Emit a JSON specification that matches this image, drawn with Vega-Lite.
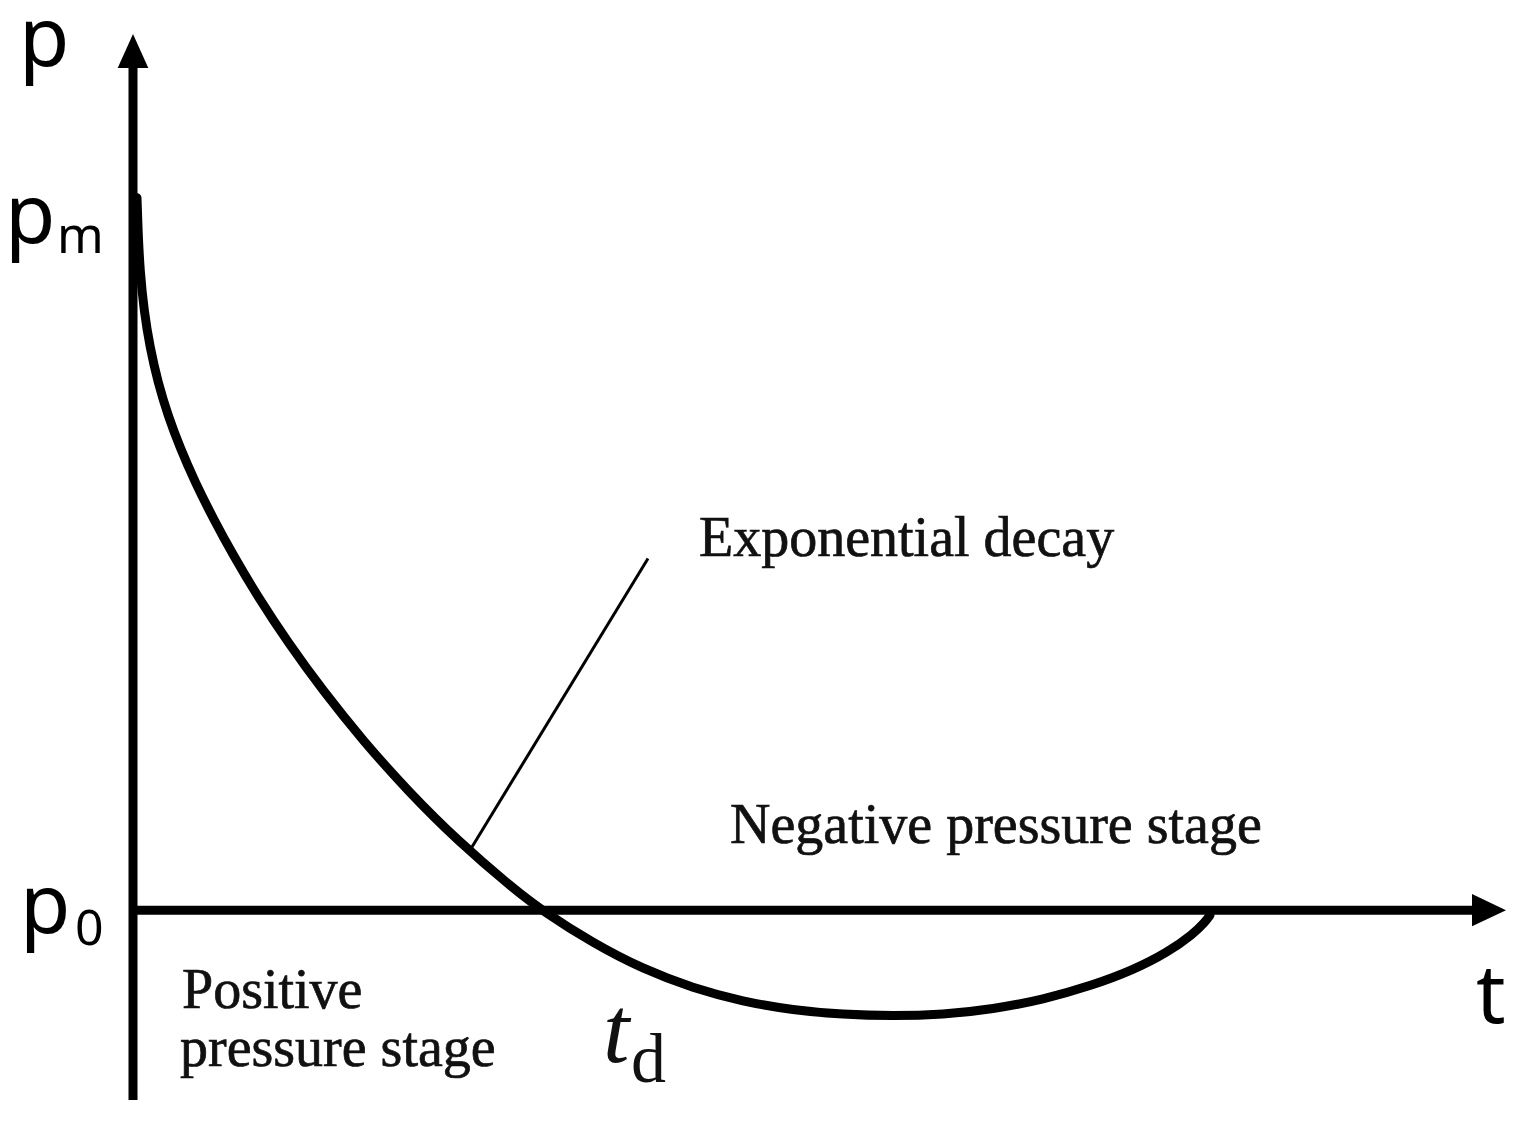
{
  "$schema": "https://vega.github.io/schema/vega-lite/v6.json",
  "width": 1522,
  "height": 1128,
  "autosize": {"type": "fit", "contains": "padding"},
  "padding": 0,
  "background": "white",
  "config": {"view": {"stroke": null}},
  "datasets": {
    "curve": [
      {"t": 0.04, "p": 7.13}, {"t": 0.05, "p": 6.80}, {"t": 0.07, "p": 6.40}, {"t": 0.11, "p": 6.00},
      {"t": 0.17, "p": 5.63}, {"t": 0.25, "p": 5.28}, {"t": 0.35, "p": 4.95}, {"t": 0.47, "p": 4.63},
      {"t": 0.62, "p": 4.285}, {"t": 0.80, "p": 3.925}, {"t": 1.00, "p": 3.555}, {"t": 1.25, "p": 3.135},
      {"t": 1.55, "p": 2.679}, {"t": 1.90, "p": 2.196}, {"t": 2.30, "p": 1.696}, {"t": 2.75, "p": 1.192},
      {"t": 3.25, "p": 0.692}, {"t": 3.80, "p": 0.219}, {"t": 4.10, "p": -0.01},
      {"t": 4.60, "p": -0.33}, {"t": 5.10, "p": -0.59}, {"t": 5.60, "p": -0.78}, {"t": 6.10, "p": -0.915},
      {"t": 6.60, "p": -1.00}, {"t": 7.10, "p": -1.045}, {"t": 7.60, "p": -1.06}, {"t": 8.10, "p": -1.045},
      {"t": 8.60, "p": -0.99}, {"t": 9.10, "p": -0.895}, {"t": 9.60, "p": -0.75}, {"t": 10.00, "p": -0.60},
      {"t": 10.35, "p": -0.42}, {"t": 10.60, "p": -0.24}, {"t": 10.72, "p": -0.12}, {"t": 10.77, "p": -0.05}
    ],
    "axes": [
      {"t": 0, "p": -1.9, "t2": 0, "p2": 8.45},
      {"t": -0.04, "p": 0, "t2": 13.5, "p2": 0}
    ],
    "leader": [{"t": 3.37, "p": 0.60, "t2": 5.15, "p2": 3.52}],
    "arrowUp": [{"t": 0, "p": 8.60}],
    "arrowRight": [{"t": 13.56, "p": 0}],
    "serif": [
      {"t": 5.66, "p": 3.55, "label": "Exponential decay"},
      {"t": 5.97, "p": 0.67, "label": "Negative pressure stage"},
      {"t": 0.49, "p": -0.98, "label": "Positive"},
      {"t": 0.47, "p": -1.56, "label": "pressure stage"}
    ],
    "sansBig": [
      {"t": -1.14, "p": 8.45, "label": "p"},
      {"t": -1.28, "p": 6.68, "label": "p"},
      {"t": -1.13, "p": -0.23, "label": "p"},
      {"t": 13.43, "p": -1.13, "label": "t"}
    ],
    "sansSub": [
      {"t": -0.76, "p": 6.58, "label": "m"},
      {"t": -0.58, "p": -0.35, "label": "0"}
    ],
    "tdMain": [{"t": 4.70, "p": -1.52, "label": "t"}],
    "tdSub": [{"t": 4.98, "p": -1.72, "label": "d"}]
  },
  "encoding": {
    "x": {"field": "t", "type": "quantitative", "scale": {"domain": [-1.33, 13.89], "nice": false, "zero": false}, "axis": null},
    "y": {"field": "p", "type": "quantitative", "scale": {"domain": [-2.18, 9.10], "nice": false, "zero": false}, "axis": null}
  },
  "layer": [
    {
      "data": {"name": "axes"},
      "mark": {"type": "rule", "color": "black", "strokeWidth": 9},
      "encoding": {"x2": {"field": "t2"}, "y2": {"field": "p2"}}
    },
    {
      "data": {"name": "arrowUp"},
      "mark": {"type": "point", "shape": "M0,-1L0.9,1L-0.9,1Z", "filled": true, "color": "black", "opacity": 1, "size": 1156}
    },
    {
      "data": {"name": "arrowRight"},
      "mark": {"type": "point", "shape": "M1,0L-1,0.95L-1,-0.95Z", "filled": true, "color": "black", "opacity": 1, "size": 1156}
    },
    {
      "data": {"name": "leader"},
      "mark": {"type": "rule", "color": "black", "strokeWidth": 3},
      "encoding": {"x2": {"field": "t2"}, "y2": {"field": "p2"}}
    },
    {
      "data": {"name": "curve"},
      "mark": {"type": "line", "color": "black", "strokeWidth": 9, "interpolate": "basis", "strokeCap": "round"},
      "encoding": {"order": {"field": "t", "type": "quantitative"}}
    },
    {
      "data": {"name": "serif"},
      "mark": {"type": "text", "font": "Liberation Serif", "fontSize": 56, "align": "left", "baseline": "alphabetic", "color": "#111111", "stroke": "#111111", "strokeWidth": 0.7},
      "encoding": {"text": {"field": "label"}}
    },
    {
      "data": {"name": "sansBig"},
      "mark": {"type": "text", "font": "Noto Sans", "fontSize": 82, "align": "left", "baseline": "alphabetic", "color": "black"},
      "encoding": {"text": {"field": "label"}}
    },
    {
      "data": {"name": "sansSub"},
      "mark": {"type": "text", "font": "Noto Sans", "fontSize": 50, "align": "left", "baseline": "alphabetic", "color": "black"},
      "encoding": {"text": {"field": "label"}}
    },
    {
      "data": {"name": "tdMain"},
      "mark": {"type": "text", "font": "Liberation Serif", "fontStyle": "italic", "fontSize": 95, "align": "left", "baseline": "alphabetic", "color": "#111111"},
      "encoding": {"text": {"field": "label"}}
    },
    {
      "data": {"name": "tdSub"},
      "mark": {"type": "text", "font": "Liberation Serif", "fontSize": 70, "align": "left", "baseline": "alphabetic", "color": "#111111"},
      "encoding": {"text": {"field": "label"}}
    }
  ]
}
